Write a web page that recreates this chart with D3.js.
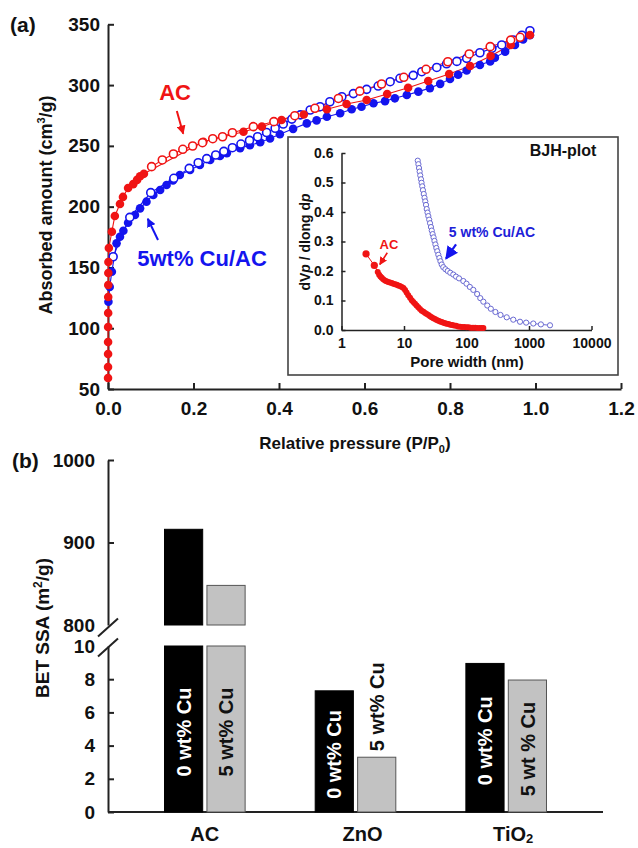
<!DOCTYPE html>
<html><head><meta charset="utf-8">
<script src="https://cdn.jsdelivr.net/npm/d3@7"></script>
<style>
body{margin:0;background:#fff}
text{font-family:"Liberation Sans",Arial,sans-serif;font-weight:bold;fill:#111}
</style></head>
<body><svg id="chart" width="638" height="848"></svg>
<script>
// ---------------- DATA ----------------
// (a) N2 isotherms: [P/P0, adsorbed amount cm3/g]
const acAdsorption = [[0.0001,59.0],[0.0001,68.1],[0.0002,78.8],[0.0002,88.7],[0.0003,101.0],[0.0004,112.5],[0.0005,125.7],[0.0006,135.5],[0.0008,145.4],[0.001,154.5],[0.002,166.0],[0.009,179.4],[0.016,192.3],[0.028,202.2],[0.035,208.0],[0.047,215.3],[0.059,218.5],[0.068,222.0],[0.075,225.0],[0.084,227.0],[0.223,253.4],[0.317,261.6],[0.36,265.8],[0.406,271.3],[0.458,275.8],[0.512,280.1],[0.558,284.4],[0.605,287.7],[0.653,292.7],[0.702,297.8],[0.749,303.3],[0.798,309.1],[0.847,315.7],[0.895,323.9],[0.942,333.0],[0.987,341.2]];
const acDesorption = [[0.102,232.9],[0.127,238.4],[0.153,243.3],[0.175,247.2],[0.198,249.9],[0.221,252.6],[0.245,255.9],[0.268,257.5],[0.291,260.8],[0.34,265.8],[0.388,269.9],[0.437,274.8],[0.484,280.9],[0.539,289.0],[0.589,295.0],[0.64,300.9],[0.692,306.4],[0.744,313.0],[0.795,319.2],[0.845,325.6],[0.894,331.6],[0.942,337.0],[0.964,339.3]];
const cuAdsorption = [[0.001,121.8],[0.004,134.0],[0.009,146.5],[0.02,169.8],[0.028,175.3],[0.036,180.2],[0.047,186.8],[0.063,193.1],[0.075,198.6],[0.09,204.1],[0.106,209.6],[0.122,213.7],[0.137,217.8],[0.152,221.5],[0.168,226.0],[0.192,230.1],[0.215,234.3],[0.239,238.4],[0.262,241.7],[0.278,244.0],[0.309,248.0],[0.332,250.5],[0.356,253.0],[0.379,256.0],[0.402,259.5],[0.433,264.0],[0.465,268.5],[0.488,271.0],[0.512,274.0],[0.543,276.8],[0.57,280.1],[0.593,282.2],[0.621,285.0],[0.648,286.8],[0.671,289.1],[0.699,291.8],[0.726,294.6],[0.753,297.5],[0.777,301.0],[0.8,305.0],[0.819,308.5],[0.839,312.0],[0.87,316.5],[0.894,319.5],[0.905,322.5],[0.929,327.5],[0.952,333.0],[0.971,337.5],[0.987,341.0]];
const cuDesorption = [[0.012,158.8],[0.051,191.2],[0.1,211.5],[0.154,223.3],[0.19,231.5],[0.211,236.1],[0.231,239.5],[0.252,242.5],[0.271,245.5],[0.291,248.5],[0.311,251.5],[0.331,254.5],[0.35,257.5],[0.371,261.0],[0.391,264.5],[0.41,268.0],[0.43,272.0],[0.45,275.5],[0.473,279.5],[0.496,282.2],[0.519,286.3],[0.547,290.4],[0.574,293.0],[0.605,296.5],[0.632,299.2],[0.66,302.8],[0.683,305.6],[0.714,308.0],[0.734,311.0],[0.769,314.5],[0.792,317.5],[0.816,319.5],[0.839,322.0],[0.87,326.6],[0.898,330.2],[0.921,333.0],[0.948,337.1],[0.968,341.0],[0.987,344.7]];
const xTicksA = [0,0.2,0.4,0.6,0.8,1.0,1.2];
const yTicksA = [50,100,150,200,250,300,350];

// inset BJH: [pore width nm, dVp/dlog dp]
const bjhAC = [[2.47,0.258],[3.35,0.219],[3.8,0.197],[4.0,0.187],[4.2,0.181],[4.4,0.177],[4.65,0.172],[4.95,0.168],[5.25,0.165],[5.6,0.163],[5.95,0.161],[6.35,0.159],[6.75,0.157],[7.2,0.155],[7.65,0.153],[8.1,0.151],[8.6,0.149],[9.2,0.146],[9.8,0.142],[10.4,0.136],[11.0,0.127],[11.7,0.118],[12.5,0.109],[13.3,0.101],[14.1,0.095],[15.0,0.089],[15.9,0.083],[16.9,0.077],[18.0,0.071],[19.2,0.065],[20.5,0.062],[21.8,0.058],[23.1,0.054],[24.6,0.051],[26.1,0.047],[27.7,0.043],[29.5,0.040],[31.3,0.037],[33.3,0.034],[35.5,0.031],[37.8,0.029],[40.1,0.027],[42.8,0.025],[45.5,0.023],[48.2,0.021],[51.5,0.020],[55,0.018],[59,0.017],[63,0.015],[68,0.014],[73,0.012],[79,0.011],[85,0.010],[92,0.010],[100,0.009],[108,0.009],[117,0.008],[127,0.008],[138,0.008],[150,0.007],[163,0.007],[175,0.007],[186,0.007]];
const bjhCu = [[16.6,0.574],[17.0,0.562],[17.4,0.549],[17.8,0.537],[18.2,0.524],[18.7,0.511],[19.1,0.499],[19.6,0.487],[20.1,0.474],[20.7,0.461],[21.3,0.448],[21.9,0.436],[22.5,0.424],[23.1,0.41],[23.8,0.398],[24.5,0.386],[25.3,0.374],[26.1,0.362],[27.0,0.349],[27.8,0.337],[28.7,0.325],[29.7,0.314],[30.7,0.302],[31.8,0.29],[32.9,0.278],[34.1,0.267],[35.4,0.255],[36.8,0.244],[38.3,0.233],[40.1,0.222],[42.5,0.213],[46,0.206],[50,0.2],[55,0.194],[61.5,0.188],[68,0.181],[76,0.175],[88.9,0.166],[100,0.157],[113,0.146],[128.5,0.136],[148,0.122],[166,0.108],[186,0.096],[215,0.083],[245,0.072],[290,0.061],[350,0.051],[440,0.043],[560,0.035],[718,0.028],[900,0.025],[1172,0.022],[1550,0.019],[2168,0.016]];
const xTicksInset = [1,10,100,1000,10000];
const yTicksInset = [0,0.1,0.2,0.3,0.4,0.5,0.6];

// (b) BET surface area
const catalysts = ["AC","ZnO","TiO2"];
const loadings = ["0 wt% Cu","5 wt% Cu"];
const bet0 = [916, 7.3, 8.95];
const bet5 = [848, 3.3, 7.95];
const barText5 = ["5 wt% Cu","5 wt% Cu","5 wt % Cu"];
const yTicksLow = [0,2,4,6,8,10];
const yTicksHigh = [800,900,1000];

// ---------------- DRAW ----------------
const svg = d3.select("#chart");
const RED = "#f01414", BLUE = "#1414ee", INBLUE = "#6a6ad2";

// arrow markers
const defs = svg.append("defs");
function mk(id, color, w, h){
  defs.append("marker").attr("id",id).attr("viewBox","0 0 10 10").attr("refX",9).attr("refY",5)
    .attr("markerWidth",w).attr("markerHeight",h).attr("orient","auto").attr("markerUnits","userSpaceOnUse")
    .append("path").attr("d","M0,0 L10,5 L0,10 z").attr("fill",color);
}
mk("arR", RED, 9, 9); mk("arB", BLUE, 9, 9); mk("arRs", RED, 8, 8); mk("arBs", BLUE, 13, 13);

// ===== panel (a) =====
const x = d3.scaleLinear().domain([0,1.2]).range([108,621]);
const y = d3.scaleLinear().domain([50,350]).range([389,24.3]);

const gxa = svg.append("g").attr("transform","translate(0,389)")
  .call(d3.axisBottom(x).tickValues(xTicksA).tickFormat(d3.format(".1f")).tickSizeInner(-6).tickSizeOuter(0).tickPadding(13));
const gya = svg.append("g").attr("transform","translate(108,0)")
  .call(d3.axisLeft(y).tickValues(yTicksA).tickFormat(d3.format("d")).tickSizeInner(-6).tickSizeOuter(0).tickPadding(8));
[gxa,gya].forEach(g=>{
  g.attr("font-family",null);
  g.select(".domain").attr("stroke","#222").attr("stroke-width",2);
  g.selectAll(".tick line").attr("stroke","#222").attr("stroke-width",2);
  g.selectAll(".tick text").attr("font-size",19).attr("fill","#111");
});

const line = d3.line().x(d=>x(d[0])).y(d=>y(d[1]));
[[cuAdsorption,BLUE],[cuDesorption,BLUE],[acAdsorption,RED],[acDesorption,RED]].forEach(([s,c])=>{
  svg.append("path").datum(s).attr("d",line).attr("fill","none").attr("stroke",c).attr("stroke-width",1.1);
});
function pts(data, color, filled){
  svg.append("g").selectAll("circle").data(data).join("circle")
    .attr("cx",d=>x(d[0])).attr("cy",d=>y(d[1])).attr("r",filled?4.3:4)
    .attr("fill",filled?color:"#fff").attr("stroke",color).attr("stroke-width",filled?0:1.6);
}
pts(cuAdsorption, BLUE, true);
pts(cuDesorption, BLUE, false);
pts(acAdsorption, RED, true);
pts(acDesorption, RED, false);

// annotations (a)
svg.append("text").attr("x",x(0.157)).attr("y",y(287.7)).attr("text-anchor","middle").attr("font-size",22).style("fill",RED).text("AC");
svg.append("line").attr("x1",x(0.161)).attr("y1",y(278.7)).attr("x2",x(0.176)).attr("y2",y(260.0))
  .attr("stroke",RED).attr("stroke-width",2).attr("marker-end","url(#arR)");
svg.append("text").attr("x",x(0.22)).attr("y",y(151.2)).attr("text-anchor","middle").attr("font-size",22).style("fill",BLUE).text("5wt% Cu/AC");
svg.append("line").attr("x1",x(0.117)).attr("y1",y(172.6)).attr("x2",x(0.093)).attr("y2",y(190))
  .attr("stroke",BLUE).attr("stroke-width",2).attr("marker-end","url(#arB)");

// axis titles (a)
const xt = svg.append("text").attr("x",355).attr("y",449).attr("text-anchor","middle").attr("font-size",17);
xt.append("tspan").text("Relative pressure (P/P");
xt.append("tspan").attr("font-size",11).attr("dy",4).text("0");
xt.append("tspan").attr("dy",-4).text(")");
const yt = svg.append("text").attr("transform","translate(52,205) rotate(-90)").attr("text-anchor","middle").attr("font-size",18);
yt.append("tspan").text("Absorbed amount (cm");
yt.append("tspan").attr("font-size",11).attr("dy",-7).text("3");
yt.append("tspan").attr("dy",7).text("/g)");
svg.append("text").attr("x",10).attr("y",32).attr("font-size",21).text("(a)");

// ===== inset =====
svg.append("rect").attr("x",288).attr("y",137).attr("width",330).attr("height",238)
  .attr("fill","#fff").attr("stroke","#444").attr("stroke-width",1.6);
const xi = d3.scaleLog().domain([1,10000]).range([341.5,591.5]);
const yi = d3.scaleLinear().domain([0,0.6]).range([330,153]);
const gxi = svg.append("g").attr("transform","translate(0,330)")
  .call(d3.axisBottom(xi).tickValues(xTicksInset).tickFormat(d3.format("d")).tickSizeInner(-4).tickSizeOuter(0).tickPadding(8));
const gyi = svg.append("g").attr("transform","translate(341.5,0)")
  .call(d3.axisLeft(yi).tickValues(yTicksInset).tickFormat(d3.format(".1f")).tickSizeInner(-4).tickSizeOuter(0).tickPadding(8));
[gxi,gyi].forEach(g=>{
  g.attr("font-family",null);
  g.select(".domain").attr("stroke","#222").attr("stroke-width",1.5);
  g.selectAll(".tick line").attr("stroke","#222").attr("stroke-width",1.5);
  g.selectAll(".tick text").attr("font-size",14).attr("fill","#111");
});
const linei = d3.line().x(d=>xi(d[0])).y(d=>yi(d[1]));
svg.append("path").datum(bjhAC).attr("d",linei).attr("fill","none").attr("stroke",RED).attr("stroke-width",1);
svg.append("path").datum(bjhCu).attr("d",linei).attr("fill","none").attr("stroke",INBLUE).attr("stroke-width",1);
svg.append("g").selectAll("circle").data(bjhAC).join("circle")
  .attr("cx",d=>xi(d[0])).attr("cy",d=>yi(d[1])).attr("r",(d,i)=>i<2?3.6:3).attr("fill",RED);
svg.append("g").selectAll("circle").data(bjhCu).join("circle")
  .attr("cx",d=>xi(d[0])).attr("cy",d=>yi(d[1])).attr("r",2.6).attr("fill","#fff").attr("stroke",INBLUE).attr("stroke-width",1);

svg.append("text").attr("x",563).attr("y",156).attr("text-anchor","middle").attr("font-size",16).text("BJH-plot");
svg.append("text").attr("x",xi(5.75)).attr("y",yi(0.275)).attr("text-anchor","middle").attr("font-size",13).style("fill",RED).text("AC");
svg.append("line").attr("x1",xi(5.4)).attr("y1",yi(0.262)).attr("x2",xi(4.1)).attr("y2",yi(0.222))
  .attr("stroke",RED).attr("stroke-width",1.6).attr("marker-end","url(#arRs)");
svg.append("text").attr("x",xi(256)).attr("y",yi(0.315)).attr("text-anchor","middle").attr("font-size",14).style("fill","#2020d8").text("5 wt% Cu/AC");
svg.append("line").attr("x1",xi(68)).attr("y1",yi(0.29)).attr("x2",xi(47)).attr("y2",yi(0.242))
  .attr("stroke",BLUE).attr("stroke-width",2.2).attr("marker-end","url(#arBs)");
svg.append("text").attr("x",467).attr("y",367).attr("text-anchor","middle").attr("font-size",15).text("Pore width (nm)");
const yti = svg.append("text").attr("transform","translate(310,242) rotate(-90)").attr("text-anchor","middle").attr("font-size",14);
yti.append("tspan").text("dV");
yti.append("tspan").attr("font-style","italic").text("p");
yti.append("tspan").text(" / dlong d");
yti.append("tspan").attr("font-style","italic").text("p");

// ===== panel (b) =====
const xb = d3.scaleBand().domain(catalysts).range([108,603]).paddingInner(0.465).paddingOuter(0.375);
const xs = d3.scaleBand().domain(loadings).range([0,xb.bandwidth()]).paddingInner(0.1);
const yLow = d3.scaleLinear().domain([0,10]).range([812,646]);
const yHigh = d3.scaleLinear().domain([800,1000]).range([625,460]);

// axes
const gyl = svg.append("g").attr("transform","translate(108,0)")
  .call(d3.axisLeft(yLow).tickValues(yTicksLow).tickFormat(d3.format("d")).tickSizeInner(-6).tickSizeOuter(0).tickPadding(13));
const gyh = svg.append("g").attr("transform","translate(108,0)")
  .call(d3.axisLeft(yHigh).tickValues(yTicksHigh).tickFormat(d3.format("d")).tickSizeInner(-6).tickSizeOuter(0).tickPadding(13));
[gyl,gyh].forEach(g=>{
  g.attr("font-family",null);
  g.select(".domain").attr("stroke","#222").attr("stroke-width",2);
  g.selectAll(".tick line").attr("stroke","#222").attr("stroke-width",2);
  g.selectAll(".tick text").attr("font-size",19).attr("fill","#111");
});
gyl.selectAll(".tick").filter(d=>d===10).select("line").remove();
gyh.selectAll(".tick").filter(d=>d===800).select("line").remove();
svg.append("line").attr("x1",108).attr("x2",603).attr("y1",yLow(0)).attr("y2",yLow(0)).attr("stroke","#222").attr("stroke-width",2);
// break marks
[[108,yHigh(800)+2.5],[108,yLow(10)+1.5]].forEach(([cx,cy])=>{
  svg.append("line").attr("x1",cx-10).attr("y1",cy+9).attr("x2",cx+10).attr("y2",cy-9).attr("stroke","#222").attr("stroke-width",2);
});

// bars
const barData = [];
catalysts.forEach((c,i)=>{
  barData.push({c, s:loadings[0], v:bet0[i], label:loadings[0]});
  barData.push({c, s:loadings[1], v:bet5[i], label:barText5[i]});
});
barData.forEach(d=>{
  const bx = xb(d.c)+xs(d.s), bw = xs.bandwidth();
  const dark = d.s===loadings[0];
  const fill = dark?"#000":"#c2c2c2", stroke = dark?"#000":"#555";
  const lowTop = yLow(Math.min(d.v,10));
  svg.append("rect").attr("x",bx).attr("y",lowTop).attr("width",bw).attr("height",yLow(0)-lowTop)
    .attr("fill",fill).attr("stroke",stroke).attr("stroke-width",1);
  if(d.v>=800){
    svg.append("rect").attr("x",bx).attr("y",yHigh(d.v)).attr("width",bw).attr("height",yHigh(800)-yHigh(d.v))
      .attr("fill",fill).attr("stroke",stroke).attr("stroke-width",1);
  }
  const cx = bx+bw/2;
  const h = yLow(0)-lowTop;
  if(h>100){
    svg.append("text").attr("transform",`translate(${cx},${(lowTop+yLow(0))/2+3}) rotate(-90)`)
      .attr("text-anchor","middle").attr("dy","0.36em").attr("font-size",20)
      .style("fill",dark?"#fff":"#111").text(d.label);
  } else {
    svg.append("text").attr("transform",`translate(${cx},${lowTop-6}) rotate(-90)`)
      .attr("text-anchor","start").attr("dy","0.36em").attr("font-size",20).style("fill","#111").text(d.label);
  }
});
// category labels
catalysts.forEach(c=>{
  const t = svg.append("text").attr("x",xb(c)+xb.bandwidth()/2+(c==="AC"?0:7)).attr("y",841).attr("text-anchor","middle").attr("font-size",20);
  if(c==="TiO2"){ t.append("tspan").text("TiO"); t.append("tspan").attr("font-size",13).attr("dy",2).text("2"); }
  else t.text(c);
});
const ytb = svg.append("text").attr("transform","translate(49,628) rotate(-90)").attr("text-anchor","middle").attr("font-size",19);
ytb.append("tspan").text("BET SSA (m");
ytb.append("tspan").attr("font-size",12).attr("dy",-7).text("2");
ytb.append("tspan").attr("dy",7).text("/g)");
svg.append("text").attr("x",12).attr("y",468).attr("font-size",21).text("(b)");
</script></body></html>
